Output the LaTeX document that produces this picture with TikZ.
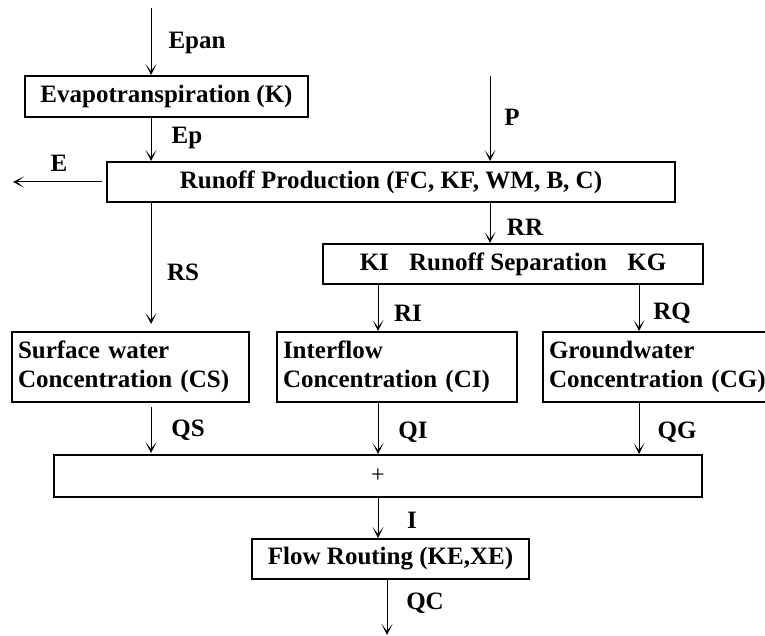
\documentclass[tikz,border=0pt]{standalone}
\usepackage{fontspec}
\setmainfont{Liberation Serif}
\usetikzlibrary{arrows.meta}
\begin{document}
\begin{tikzpicture}[x=1pt,y=-1pt,
  box/.style={draw,line width=2pt,rectangle,inner sep=0pt,font=\fontsize{25}{29}\selectfont\bfseries},
  lbl/.style={font=\fontsize{25}{29}\selectfont\bfseries,inner sep=0pt},
  flow/.style={line width=1pt,-{Stealth[length=11pt,width=11pt,inset=7pt]}}]
\clip (0,0) rectangle (765,636);
\fill[white] (0,0) rectangle (765,636);
% boxes
\node[box,minimum width=283pt,minimum height=41pt] (evap) at (166.5,96.5) {Evapotranspiration (K)};
\node[box,minimum width=568pt,minimum height=40pt] (prod) at (391,182) {Runoff Production (FC, KF, WM, B, C)};
\node[box,minimum width=380pt,minimum height=40pt] (sep) at (513,264) {KI\hspace{14pt} Runoff Separation\hspace{14pt} KG};
\node[box,minimum width=237pt,minimum height=70pt,align=left,text width=225pt] (surf) at (130.5,367) {Surface water\\Concentration (CS)};
\node[box,minimum width=240pt,minimum height=70pt,align=left,text width=228pt] (inter) at (397,367) {Interflow\\Concentration (CI)};
\node[box,minimum width=247pt,minimum height=70pt,align=left,text width=235pt] (ground) at (666.5,367) {Groundwater\\Concentration (CG)};
\node[box,minimum width=648pt,minimum height=42pt,font=\fontsize{24}{28}\selectfont] (plus) at (378,476) {+};
\node[box,minimum width=277pt,minimum height=40pt] (route) at (390.5,559) {Flow Routing (KE,XE)};
% free ends
\coordinate (epanTop) at (151,8);
\coordinate (pTop) at (490,76);
\coordinate (eEnd) at (13,182);
\coordinate (qcEnd) at (387,635);
% connectors
\draw[flow] (epanTop) -- (epanTop |- evap.north);
\draw[flow] (151,0 |- evap.south) -- (151,0 |- prod.north);
\draw[flow,shorten <=4pt] (prod.west) -- (eEnd);
\draw[flow] (pTop) -- (pTop |- prod.north);
\draw[flow] (490,0 |- prod.south) -- (490,0 |- sep.north);
\draw[flow,shorten >=7pt] (151,0 |- prod.south) -- (151,0 |- surf.north);
\draw[flow] (378,0 |- sep.south) -- (378,0 |- inter.north);
\draw[flow] (639,0 |- sep.south) -- (639,0 |- ground.north);
\draw[flow,shorten <=4pt,shorten >=1pt] (151,0 |- surf.south) -- (151,0 |- plus.north);
\draw[flow] (378,0 |- inter.south) -- (378,0 |- plus.north);
\draw[flow] (639,0 |- ground.south) -- (639,0 |- plus.north);
\draw[flow] (378,0 |- plus.south) -- (378,0 |- route.north);
\draw[flow] (387,0 |- route.south) -- (qcEnd);
% labels
\node[lbl] (lEpan) at (197,43) {Epan};
\node[lbl] (lEp) at (187,138) {Ep};
\node[lbl] (lE) at (59,163) {E};
\node[lbl] (lP) at (512,117) {P};
\node[lbl] (lRR) at (525,227) {RR};
\node[lbl] (lRS) at (183,272) {RS};
\node[lbl] (lRI) at (408,313) {RI};
\node[lbl] (lRQ) at (672,313) {RQ};
\node[lbl] (lQS) at (188,430) {QS};
\node[lbl] (lQI) at (413,432) {QI};
\node[lbl] (lQG) at (677,432) {QG};
\node[lbl] (lI) at (412,520) {I};
\node[lbl] (lQC) at (425,603) {QC};
\end{tikzpicture}
\end{document}
